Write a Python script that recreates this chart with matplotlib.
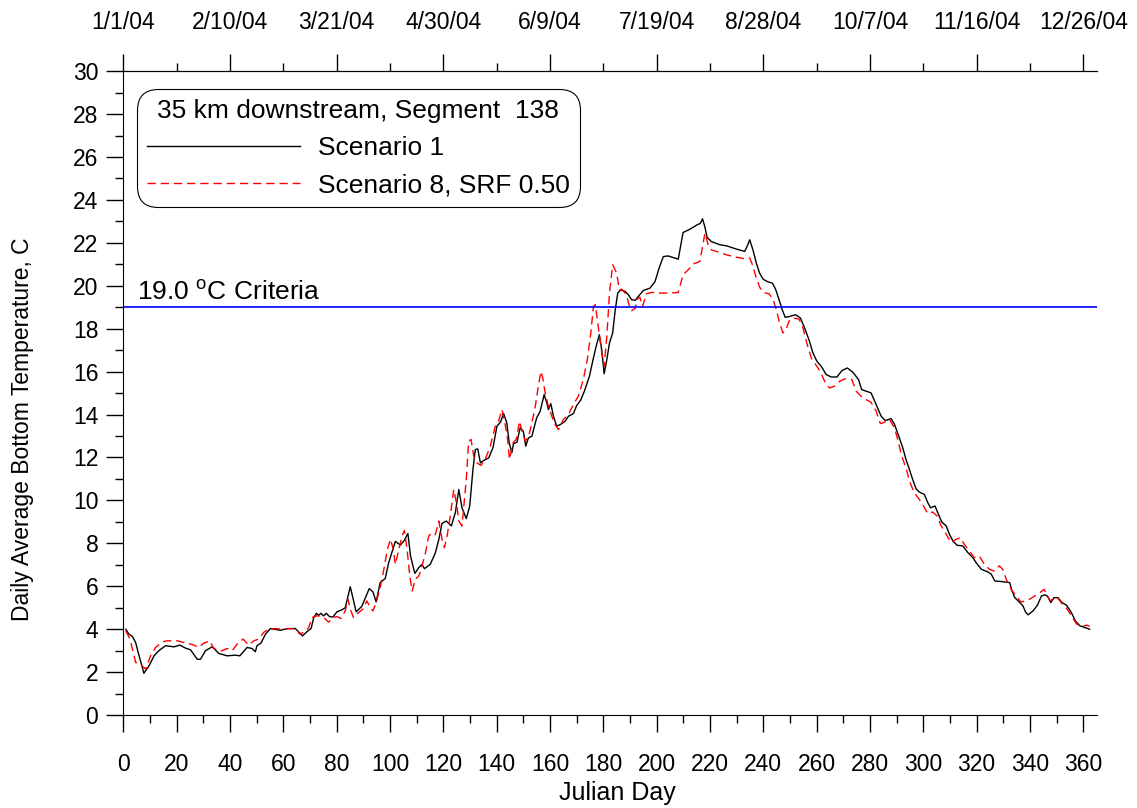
import matplotlib
matplotlib.use("Agg")
import matplotlib.pyplot as plt
from matplotlib.ticker import MultipleLocator

plt.rcParams['font.family'] = ['Liberation Sans', 'DejaVu Sans']
plt.rcParams['mathtext.fontset'] = 'custom'
plt.rcParams['mathtext.rm'] = 'Liberation Sans'

# Scenario 1 (black solid), digitised vertices
days_s1 = [0.9, 2.1, 3.4, 4.6, 5.9, 7.7, 9.6, 11.5, 13.3, 15.8, 19.0, 21.2, 23.3, 25.2,
           27.7, 28.9, 30.8, 33.3, 35.8, 38.9, 42.0, 43.7, 46.4, 48.3, 49.5, 50.1, 51.6,
           53.3, 55.1, 58.9, 61.4, 64.5, 65.7, 67.2, 68.9, 70.4, 71.4, 72.4, 73.2, 74.1,
           75.1, 76.1, 77.3, 78.6, 80.1, 81.9, 83.2, 85.1, 87.3, 89.4, 92.2, 93.6, 94.8,
           96.3, 98.2, 99.5, 102.0, 103.9, 105.2, 106.7, 107.7, 109.3, 110.8, 112.0, 112.9,
           115.1, 117.0, 118.3, 119.5, 121.1, 123.0, 124.5, 125.8, 127.0, 128.6, 129.9,
           131.1, 132.0, 132.9, 133.9, 135.1, 137.0, 138.6, 140.1, 141.4, 142.6, 143.8,
           144.7, 145.7, 146.3, 147.6, 148.8, 150.0, 150.9, 151.9, 153.2, 155.0, 156.3,
           157.8, 158.8, 159.4, 160.3, 161.3, 162.5, 163.8, 165.7, 166.9, 168.8, 170.0,
           171.5, 172.9, 174.8, 176.0, 177.3, 178.5, 179.4, 180.3, 181.3, 182.3, 183.5,
           184.4, 185.4, 186.5, 188.1, 189.4, 190.6, 191.9, 193.1, 195.0, 197.5, 199.4,
           200.9, 202.5, 204.3, 208.1, 209.9, 212.4, 215.2, 216.4, 217.2, 218.1, 218.9,
           220.5, 223.7, 226.2, 229.9, 233.0, 233.9, 234.9, 236.1, 237.4, 238.6, 239.9,
           241.4, 243.4, 244.6, 245.9, 247.1, 248.2, 249.9, 252.1, 253.9, 255.5, 257.1,
           258.6, 260.1, 261.7, 263.6, 265.5, 267.6, 269.5, 271.5, 273.6, 275.7, 276.9,
           278.5, 280.4, 282.3, 284.2, 285.7, 287.9, 289.2, 291.0, 292.3, 293.5, 294.8,
           296.0, 297.3, 298.5, 300.4, 301.7, 302.7, 304.4, 305.4, 306.9, 308.6, 309.8,
           311.1, 312.7, 314.8, 316.7, 318.6, 319.8, 321.8, 324.2, 325.5, 326.8, 329.3,
           332.4, 333.3, 334.3, 336.2, 337.4, 338.3, 339.3, 341.2, 342.8, 344.3, 345.5,
           346.5, 347.8, 349.0, 350.5, 352.0, 353.7, 355.5, 357.0, 358.7, 360.5, 362.4]
temp_s1 = [4.0, 3.77, 3.66, 3.38, 2.76, 1.95, 2.29, 2.76, 3.0, 3.23, 3.18, 3.26, 3.12, 3.04,
           2.6, 2.6, 3.0, 3.18, 2.87, 2.76, 2.79, 2.76, 3.15, 3.1, 2.95, 3.23, 3.35,
           3.77, 4.03, 3.95, 4.03, 4.03, 3.88, 3.69, 3.89, 4.03, 4.54, 4.74, 4.65, 4.74,
           4.62, 4.74, 4.59, 4.57, 4.81, 4.9, 5.0, 5.98, 4.81, 5.06, 5.89, 5.74, 5.27,
           6.17, 6.36, 7.1, 8.09, 7.92, 8.11, 8.46, 7.41, 6.6, 6.87, 7.02, 6.82,
           7.02, 7.56, 8.18, 8.93, 9.04, 8.81, 9.43, 10.51, 9.66, 9.15, 9.74,
           11.44, 12.37, 12.4, 11.75, 11.86, 11.98, 12.45, 13.46, 13.64, 14.05, 13.61,
           12.68, 12.22, 12.64, 12.71, 13.38, 13.22, 12.53, 12.91, 12.99, 13.85, 14.15,
           14.93, 14.54, 14.23, 14.51, 13.92, 13.46, 13.53, 13.69, 13.92, 14.05, 14.42,
           14.67, 15.09, 15.79, 16.48, 17.18, 17.72, 17.02, 15.9, 16.55, 17.33, 17.8,
           18.81, 19.66, 19.81, 19.74, 19.58, 19.35, 19.32, 19.5, 19.78, 19.89, 20.2,
           20.82, 21.36, 21.39, 21.24, 22.48, 22.63, 22.84, 22.91, 23.12, 22.73, 22.26,
           22.06, 21.91, 21.86, 21.71, 21.6, 21.83, 22.14, 21.67, 21.05, 20.59, 20.31,
           20.2, 20.12, 19.84, 19.35, 18.88, 18.53, 18.57, 18.65, 18.5, 18.03, 17.49,
           16.87, 16.48, 16.25, 15.86, 15.75, 15.75, 16.05, 16.17, 15.97, 15.63, 15.16,
           15.09, 15.01, 14.47, 13.92, 13.72, 13.81, 13.54, 12.92, 12.45, 11.91, 11.44,
           10.98, 10.54, 10.39, 10.28, 9.89, 9.66, 9.74, 9.43, 9.0, 8.81, 8.42,
           8.11, 7.91, 7.88, 7.57, 7.33, 7.1, 6.79, 6.67, 6.56, 6.25, 6.22,
           6.17, 5.78, 5.47, 5.24, 5.08, 4.81, 4.67, 4.86, 5.12, 5.55, 5.6,
           5.55, 5.24, 5.47, 5.47, 5.24, 5.12, 4.78, 4.39, 4.16, 4.08, 4.0]

# Scenario 8, SRF 0.50 (red dashed), digitised vertices
days_s8 = [0.9, 2.5, 3.4, 4.6, 5.9, 8.4, 10.2, 12.1, 14.6, 16.5, 20.2, 22.7, 24.6, 26.4,
           28.3, 29.9, 32.4, 33.7, 35.2, 37.0, 38.9, 40.8, 42.7, 44.9, 47.0, 48.9, 50.8,
           52.6, 54.5, 57.0, 60.1, 63.2, 64.9, 66.1, 67.6, 69.5, 70.7, 72.6, 74.5, 77.0,
           78.6, 80.1, 81.6, 83.2, 84.2, 85.1, 86.3, 88.2, 89.8, 91.3, 92.6, 93.6, 94.8,
           96.3, 97.7, 99.0, 100.2, 101.2, 102.0, 103.3, 104.5, 105.4, 106.4, 107.4, 108.3,
           109.5, 110.8, 111.7, 113.3, 114.5, 115.8, 117.0, 118.3, 119.5, 120.4, 121.4,
           122.6, 123.9, 124.9, 125.8, 127.0, 128.6, 129.5, 130.4, 131.4, 132.6, 134.1,
           135.7, 137.6, 139.5, 140.7, 142.0, 143.2, 144.1, 144.8, 146.1, 147.3, 148.6,
           149.5, 150.7, 152.0, 153.2, 154.5, 155.7, 156.6, 157.3, 158.2, 159.4, 160.7,
           161.9, 163.2, 165.0, 166.9, 168.8, 170.6, 172.5, 174.0, 175.3, 176.3, 177.0,
           178.1, 179.4, 180.3, 181.3, 182.3, 183.5, 185.0, 186.0, 186.9, 188.6, 189.9,
           190.6, 192.0, 192.5, 193.7, 194.7, 196.2, 198.1, 201.2, 204.9, 208.1, 209.9,
           211.8, 213.7, 216.2, 217.2, 218.1, 219.3, 220.5, 223.7, 226.2, 229.9, 233.0,
           234.9, 235.9, 237.2, 238.6, 239.9, 242.1, 243.6, 244.9, 246.1, 247.4, 248.6,
           249.6, 251.1, 253.4, 254.9, 256.3, 258.0, 259.6, 261.3, 263.0, 264.8, 266.7,
           268.6, 270.5, 273.2, 274.8, 276.7, 278.5, 280.4, 282.3, 283.9, 285.4, 287.3,
           289.2, 290.4, 291.9, 293.5, 294.8, 296.6, 298.5, 300.1, 301.7, 303.5, 305.2,
           306.7, 308.6, 310.4, 312.3, 313.9, 315.4, 317.3, 319.1, 321.0, 322.9, 324.8,
           326.6, 328.5, 329.8, 331.1, 332.9, 334.8, 336.6, 338.5, 340.3, 342.2, 344.1,
           345.3, 346.6, 347.6, 348.8, 350.3, 352.2, 354.0, 355.9, 357.5, 359.6, 361.4,
           362.4]
temp_s8 = [3.92, 3.54, 3.07, 2.45, 2.42, 2.14, 2.76, 3.15, 3.41, 3.46, 3.46, 3.38, 3.33, 3.26,
           3.15, 3.33, 3.46, 3.15, 3.0, 3.0, 3.1, 3.0, 3.31, 3.54, 3.26, 3.46, 3.54,
           3.85, 4.0, 4.03, 4.0, 4.03, 4.0, 3.77, 3.85, 4.07, 4.54, 4.62, 4.62, 4.33,
           4.54, 4.59, 4.5, 4.85, 5.4, 4.93, 4.54, 4.78, 4.93, 5.32, 5.01, 4.85, 5.24,
           5.94, 6.79, 7.72, 8.19, 7.72, 7.02, 7.72, 8.34, 8.6, 7.72, 6.48, 5.78,
           6.33, 6.48, 6.79, 7.56, 8.34, 8.49, 8.41, 9.04, 8.19, 7.8, 8.34,
           9.27, 10.51, 9.89, 9.04, 8.81, 10.98, 12.76, 12.84, 12.06, 11.75, 11.63,
           11.91, 12.53, 13.46, 13.69, 14.23, 13.53, 12.84, 11.91, 12.68, 12.84, 13.69,
           13.22, 12.76, 12.99, 13.61, 14.39, 15.39, 16.01, 15.7, 15.0, 14.39, 13.92,
           13.53, 13.3, 13.77, 14.0, 14.47, 14.85, 15.63, 16.56, 17.8, 19.04, 19.12,
           18.1, 16.87, 16.25, 17.64, 19.66, 20.98, 20.59, 19.81, 19.84, 19.6, 19.0,
           18.84, 18.96, 19.35, 19.47, 19.04, 19.63, 19.69, 19.66, 19.66, 19.69, 20.51,
           20.74, 21.02, 21.13, 21.83, 22.45, 21.91, 21.67, 21.55, 21.44, 21.33, 21.26,
           21.29, 20.98, 20.43, 19.94, 19.69, 19.63, 19.38, 18.88, 18.26, 17.8, 17.98,
           18.34, 18.5, 18.45, 18.03, 17.33, 16.63, 16.33, 16.02, 15.55, 15.24, 15.32,
           15.55, 15.66, 15.63, 15.09, 14.85, 14.7, 14.57, 14.16, 13.58, 13.64, 13.77,
           13.38, 12.84, 12.06, 11.52, 10.9, 10.36, 10.05, 9.74, 9.38, 9.46, 9.27,
           8.81, 8.42, 8.03, 8.19, 8.26, 7.95, 7.64, 7.33, 7.41, 7.02, 6.79,
           6.71, 6.95, 6.79, 6.33, 5.86, 5.55, 5.27, 5.32, 5.43, 5.58, 5.74,
           5.86, 5.55, 5.32, 5.43, 5.47, 5.16, 4.93, 4.55, 4.24, 4.13, 4.19,
           4.13]

criteria = 19.0
date_days = [0, 40, 80, 120, 160, 200, 240, 280, 320, 360]
date_labels = ['1/1/04', '2/10/04', '3/21/04', '4/30/04', '6/9/04', '7/19/04',
               '8/28/04', '10/7/04', '11/16/04', '12/26/04']

fig = plt.figure(figsize=(11.37, 8.08), dpi=100)
ax = fig.add_axes([0.1085, 0.115, 0.856, 0.797])

ax.plot(days_s1, temp_s1, color='black', lw=1.0, label='Scenario 1')
ax.plot(days_s8, temp_s8, color='red', lw=1.0, dashes=(6, 3.5),
        label='Scenario 8, SRF 0.50')
ax.axhline(criteria, color='#0000ff', lw=1.2)
ax.text(5.1, 19.35, '19.0 $^{\\mathrm{o}}$C Criteria', fontsize=19, va='baseline', ha='left')

ax.set_xlim(0, 365)
ax.set_ylim(0, 30)
ax.xaxis.set_major_locator(MultipleLocator(20))
ax.xaxis.set_minor_locator(MultipleLocator(10))
ax.yaxis.set_major_locator(MultipleLocator(2))
ax.yaxis.set_minor_locator(MultipleLocator(1))
ax.tick_params(which='major', direction='out', length=12, width=1, labelsize=16.5)
ax.tick_params(which='minor', direction='out', length=6, width=1)
ax.tick_params(axis='x', which='major', pad=15)
ax.tick_params(axis='y', which='major', pad=6)
ax.spines['right'].set_visible(False)

# top axis with calendar dates
top = ax.secondary_xaxis('top')
top.set_xticks(date_days, date_labels)
top.xaxis.set_minor_locator(MultipleLocator(20))
top.tick_params(which='major', direction='out', length=12, width=1, labelsize=16.5, pad=15)
top.tick_params(which='minor', direction='out', length=6, width=1)

ax.set_xlabel('Julian Day', fontsize=18)
ax.set_ylabel('Daily Average Bottom Temperature, C', fontsize=16.5)
ax.xaxis.set_label_coords(0.508, -0.102)
ax.yaxis.set_label_coords(-0.092, 0.444)

leg = ax.legend(loc='upper left', bbox_to_anchor=(0.018, 0.966),
                title='35 km downstream, Segment  138', title_fontsize=19,
                fontsize=19, handlelength=5.8, handletextpad=0.7, labelspacing=0.5,
                borderpad=0.22, borderaxespad=0, frameon=True, fancybox=True,
                framealpha=1, edgecolor='black')
leg.get_frame().set_linewidth(0.8)
leg.get_frame().set_boxstyle('round,pad=0.15,rounding_size=0.8')

fig.savefig('out.png', dpi=100)
